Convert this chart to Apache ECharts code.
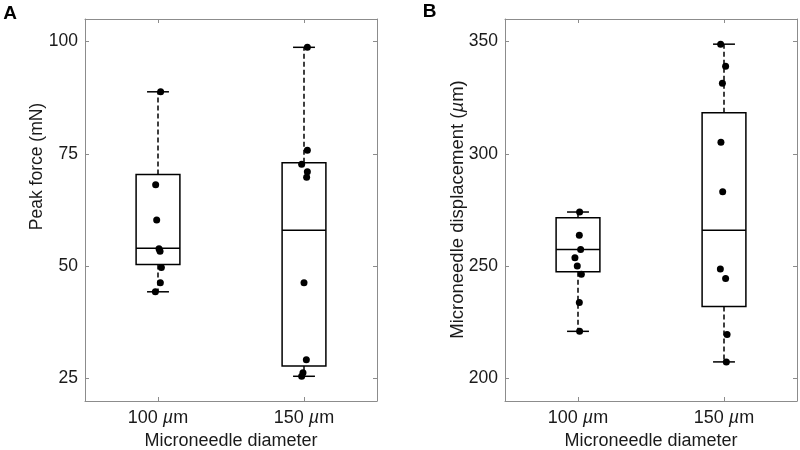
<!DOCTYPE html>
<html>
<head>
<meta charset="utf-8">
<script src="https://cdn.jsdelivr.net/npm/echarts@6/dist/echarts.min.js"></script>
<style>html,body{margin:0;padding:0;background:#fff}#c{width:800px;height:450px}</style>
</head>
<body>
<div id="c"></div>
<script>
// ---- data ----
const categories = ['100', '150'];            // microneedle diameter (µm)
const aYTicks = [25, 50, 75, 100];
const bYTicks = [200, 250, 300, 350];
// box stats: [lower whisker, Q1, median, Q3, upper whisker]
const aBox100 = [44.3, 50.4, 54.0, 70.4, 88.8];
const aBox150 = [25.5, 27.8, 58.0, 73.0, 98.7];
const bBox100 = [221.0, 247.5, 257.4, 271.5, 274.1];
const bBox150 = [207.4, 232.0, 266.0, 318.3, 348.8];
// individual measurements and their horizontal jitter (category units)
const aPts100 = [88.8, 68.1, 60.3, 53.9, 53.3, 49.7, 46.3, 44.3];
const aJit100 = [0.018, -0.016, -0.009, 0.007, 0.014, 0.023, 0.016, -0.018];
const aPts150 = [98.7, 75.8, 72.7, 71.0, 69.8, 46.3, 29.2, 26.3, 25.5];
const aJit150 = [0.023, 0.023, -0.016, 0.023, 0.018, 0.0, 0.016, -0.007, -0.016];
const bPts100 = [274.1, 263.8, 257.4, 253.7, 250.1, 246.4, 233.8, 221.0];
const bJit100 = [0.011, 0.009, 0.018, -0.021, -0.005, 0.023, 0.009, 0.011];
const bPts150 = [348.8, 339.0, 331.4, 305.1, 283.1, 248.7, 244.5, 219.6, 207.4];
const bJit150 = [-0.023, 0.011, -0.011, -0.021, -0.009, -0.025, 0.011, 0.021, 0.016];

// ---- chart ----
const FONT = 'Liberation Sans';
const TXT = '#1a1a1a';
const AX = '#8c8c8c';
const FSX = 18;    // x labels / x name
const FSY = 17.5;  // y tick labels

function renderBox(params, api) {
  const c = api.value(0);
  const lo = api.coord([c, api.value(1)]);
  const q1 = api.coord([c, api.value(2)]);
  const md = api.coord([c, api.value(3)]);
  const q3 = api.coord([c, api.value(4)]);
  const hi = api.coord([c, api.value(5)]);
  const bw = api.size([1, 0])[0];
  const hw = bw * 0.15, cw = bw * 0.075;
  const x = md[0];
  const solid = {stroke: '#000', lineWidth: 1.5, fill: null};
  const dash = {stroke: '#000', lineWidth: 1.5, lineDash: [5, 3], fill: null};
  return {
    type: 'group',
    children: [
      {type: 'line', shape: {x1: x, y1: q3[1], x2: x, y2: hi[1]}, style: dash},
      {type: 'line', shape: {x1: x, y1: q1[1], x2: x, y2: lo[1]}, style: dash},
      {type: 'line', shape: {x1: x - cw, y1: hi[1], x2: x + cw, y2: hi[1]}, style: solid},
      {type: 'line', shape: {x1: x - cw, y1: lo[1], x2: x + cw, y2: lo[1]}, style: solid},
      {type: 'rect', shape: {x: x - hw, y: q3[1], width: 2 * hw, height: q1[1] - q3[1]}, style: solid},
      {type: 'line', shape: {x1: x - hw, y1: md[1], x2: x + hw, y2: md[1]}, style: solid}
    ]
  };
}

const richI = {i: {fontStyle: 'italic', fontSize: FSX, fontFamily: FONT, color: TXT}};

function xAxes(gi) {
  return [
    {
      type: 'category', gridIndex: gi, data: categories, position: 'bottom',
      axisLine: {show: true, onZero: false, lineStyle: {color: AX, width: 1}},
      axisTick: {show: true, inside: true, alignWithLabel: true, length: 4, lineStyle: {color: AX}},
      axisLabel: {margin: 8, fontSize: FSX, fontFamily: FONT, color: TXT,
        formatter: v => v + ' {i|\u00b5}m', rich: richI},
      name: 'Microneedle diameter', nameLocation: 'middle', nameGap: 30,
      nameTextStyle: {fontSize: FSX, fontFamily: FONT, color: TXT},
      splitLine: {show: false}
    },
    {
      type: 'category', gridIndex: gi, data: categories, position: 'top',
      axisLine: {show: true, onZero: false, lineStyle: {color: AX, width: 1}},
      axisTick: {show: true, inside: true, alignWithLabel: true, length: 4, lineStyle: {color: AX}},
      axisLabel: {show: false}, splitLine: {show: false}
    },
    {type: 'value', gridIndex: gi, min: -0.5, max: 1.5, show: false,
      axisLine: {show: false, onZero: false}, splitLine: {show: false}}
  ];
}

function yAxes(gi, min, max, ticks) {
  const common = {type: 'value', gridIndex: gi, min: min, max: max, scale: true, splitLine: {show: false}};
  return [
    Object.assign({}, common, {
      position: 'left',
      axisLine: {show: true, onZero: false, lineStyle: {color: AX, width: 1}},
      axisTick: {show: true, inside: true, length: 4, lineStyle: {color: AX}, customValues: ticks},
      axisLabel: {margin: 7, fontSize: FSY, fontFamily: FONT, color: TXT, customValues: ticks}
    }),
    Object.assign({}, common, {
      position: 'right',
      axisLine: {show: true, onZero: false, lineStyle: {color: AX, width: 1}},
      axisTick: {show: true, inside: true, length: 4, lineStyle: {color: AX}, customValues: ticks},
      axisLabel: {show: false}
    })
  ];
}

function pts(vals, jit, c) { return vals.map((v, i) => [c + jit[i], v]); }

const scatterStyle = {symbol: 'circle', symbolSize: 7, itemStyle: {color: '#000', opacity: 1}, silent: true};

const option = {
  animation: false,
  backgroundColor: '#fff',
  grid: [
    {left: 85, top: 19, width: 292, height: 382, outerBoundsMode: 'none', containLabel: false},
    {left: 505, top: 19, width: 292, height: 382, outerBoundsMode: 'none', containLabel: false}
  ],
  xAxis: xAxes(0).concat(xAxes(1)),
  yAxis: yAxes(0, 20, 105, aYTicks).concat(yAxes(1, 190, 360, bYTicks)),
  series: [
    {type: 'custom', xAxisIndex: 0, yAxisIndex: 0, renderItem: renderBox,
      encode: {x: 0, y: [1, 2, 3, 4, 5]},
      data: [[0].concat(aBox100), [1].concat(aBox150)], z: 2},
    {type: 'custom', xAxisIndex: 3, yAxisIndex: 2, renderItem: renderBox,
      encode: {x: 0, y: [1, 2, 3, 4, 5]},
      data: [[0].concat(bBox100), [1].concat(bBox150)], z: 2},
    Object.assign({type: 'scatter', xAxisIndex: 2, yAxisIndex: 0, z: 3,
      data: pts(aPts100, aJit100, 0).concat(pts(aPts150, aJit150, 1))}, scatterStyle),
    Object.assign({type: 'scatter', xAxisIndex: 5, yAxisIndex: 2, z: 3,
      data: pts(bPts100, bJit100, 0).concat(pts(bPts150, bJit150, 1))}, scatterStyle)
  ],
  graphic: [
    {type: 'text', x: 10, y: 14, style: {text: 'A', font: 'bold 19px ' + FONT, fill: '#000', textAlign: 'center', textVerticalAlign: 'middle'}},
    {type: 'text', x: 429.5, y: 12, style: {text: 'B', font: 'bold 19px ' + FONT, fill: '#000', textAlign: 'center', textVerticalAlign: 'middle'}},
    {type: 'text', x: 36.7, y: 166.5, rotation: Math.PI / 2,
      style: {text: 'Peak force (mN)', fontSize: 17.5, fontFamily: FONT, fill: TXT, textAlign: 'center', textVerticalAlign: 'middle'}},
    {type: 'text', x: 457.5, y: 209.5, rotation: Math.PI / 2,
      style: {text: 'Microneedle displacement ({i|\u00b5}m)', fontSize: 18.5, fontFamily: FONT, fill: TXT,
        textAlign: 'center', textVerticalAlign: 'middle', rich: {i: {fontStyle: 'italic', fontSize: 18.5, fontFamily: FONT, fill: TXT}}}}
  ]
};

const chart = echarts.init(document.getElementById('c'), null, {renderer: 'canvas'});
chart.setOption(option);
</script>
</body>
</html>
